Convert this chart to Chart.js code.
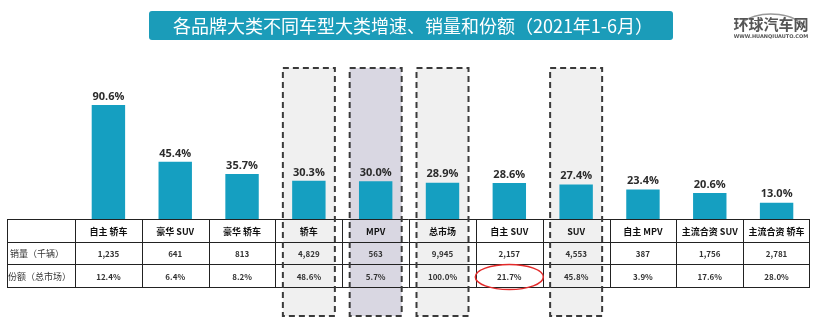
<!DOCTYPE html>
<html lang="zh">
<head>
  <meta charset="UTF-8" />
  <title>各品牌大类不同车型大类增速、销量和份额</title>
  <script src="https://cdn.jsdelivr.net/npm/chart.js"></script>
  <style>
    html, body { margin: 0; padding: 0; background: #fff; }
    canvas { display: block; }
  </style>
</head>
<body>
  <canvas id="growthChart" width="820" height="329"></canvas>

  <script>
    // categories (brand class + body type)
    const categories = ['自主 轿车', '豪华 SUV', '豪华 轿车', '轿车', 'MPV', '总市场',
                        '自主 SUV', 'SUV', '自主 MPV', '主流合资 SUV', '主流合资 轿车'];
    // YoY growth, %
    const growth = [90.6, 45.4, 35.7, 30.3, 30.0, 28.9, 28.6, 27.4, 23.4, 20.6, 13.0];
    // sales, thousand units
    const sales = ['1,235', '641', '813', '4,829', '563', '9,945', '2,157', '4,553', '387', '1,756', '2,781'];
    // share of total market
    const share = ['12.4%', '6.4%', '8.2%', '48.6%', '5.7%', '100.0%', '21.7%', '45.8%', '3.9%', '17.6%', '28.0%'];
    const rowLabels = ['销量（千辆）', '份额（总市场）'];

    // highlighted columns: index -> fill
    const boxed = { 3: '#f0f0f0', 4: '#d9d7e2', 5: '#f0f0f0', 7: '#f0f0f0' };
    const circled = 6; // share cell with red ring

    const FONT = '"Noto Sans CJK SC", "Noto Sans", sans-serif';
    const TABLE_TOP = 219, ROW_H = [23, 22, 23], TABLE_LEFT = 7;
    const BOX_TOP = 68, BOX_BOTTOM = 316, BOX_HALF = 26;

    function colEdges(x, i) {
      const c = x.getPixelForValue(i);
      const half = (x.getPixelForValue(1) - x.getPixelForValue(0)) / 2;
      return [c - half, c + half, c];
    }

    const decor = {
      id: 'decor',
      beforeDatasetsDraw(chart) {
        const { ctx, scales: { x } } = chart;
        ctx.save();
        // shaded boxes behind bars and table
        Object.keys(boxed).forEach(k => {
          const c = x.getPixelForValue(+k);
          ctx.fillStyle = boxed[k];
          ctx.fillRect(c - BOX_HALF, BOX_TOP, BOX_HALF * 2, BOX_BOTTOM - BOX_TOP);
        });
        ctx.restore();
      },
      afterDatasetsDraw(chart) {
        const { ctx, scales: { x } } = chart;
        const right = chart.chartArea.right;
        ctx.save();

        // value labels over bars
        const meta = chart.getDatasetMeta(0);
        ctx.fillStyle = '#2b2b2b';
        ctx.font = 'bold 11px "Open Sans", sans-serif';
        ctx.textAlign = 'center';
        ctx.textBaseline = 'bottom';
        meta.data.forEach((bar, i) => {
          ctx.fillText(growth[i].toFixed(1) + '%', bar.x, bar.y - 3);
        });

        // table grid
        const rowsY = [TABLE_TOP];
        ROW_H.forEach(h => rowsY.push(rowsY[rowsY.length - 1] + h));
        ctx.strokeStyle = '#222';
        ctx.lineWidth = 1;
        ctx.beginPath();
        rowsY.forEach(y => { ctx.moveTo(TABLE_LEFT, y + 0.5); ctx.lineTo(right, y + 0.5); });
        ctx.moveTo(TABLE_LEFT + 0.5, rowsY[0]); ctx.lineTo(TABLE_LEFT + 0.5, rowsY[3]);
        categories.forEach((_, i) => {
          const [l, r] = colEdges(x, i);
          ctx.moveTo(Math.round(l) + 0.5, rowsY[0]); ctx.lineTo(Math.round(l) + 0.5, rowsY[3]);
          if (i === categories.length - 1) { ctx.moveTo(Math.round(r) - 0.5, rowsY[0]); ctx.lineTo(Math.round(r) - 0.5, rowsY[3]); }
        });
        ctx.stroke();

        // table text
        ctx.textBaseline = 'middle';
        const mid = k => rowsY[k] + ROW_H[k] / 2 + 1;
        categories.forEach((name, i) => {
          const c = x.getPixelForValue(i);
          ctx.fillStyle = '#111';
          ctx.font = 'bold 9px ' + FONT;
          ctx.fillText(name, c, mid(0));
          ctx.fillStyle = '#333';
          ctx.font = '600 8px ' + FONT;
          ctx.fillText(sales[i], c, mid(1));
          ctx.fillText(share[i], c, mid(2));
        });
        ctx.fillStyle = '#333';
        ctx.font = '9px ' + FONT;
        ctx.textAlign = 'left';
        ctx.fillText(rowLabels[0], TABLE_LEFT + 3, mid(1));
        ctx.fillText(rowLabels[1], TABLE_LEFT + 1, mid(2));

        // dashed outlines
        ctx.strokeStyle = '#3a3a3a';
        ctx.lineWidth = 2;
        ctx.setLineDash([6, 4]);
        Object.keys(boxed).forEach(k => {
          const c = x.getPixelForValue(+k);
          ctx.strokeRect(c - BOX_HALF, BOX_TOP, BOX_HALF * 2, BOX_BOTTOM - BOX_TOP);
        });
        ctx.setLineDash([]);

        // red ring on one share cell
        const cc = x.getPixelForValue(circled);
        ctx.strokeStyle = '#e32a2a';
        ctx.lineWidth = 1.5;
        ctx.beginPath();
        ctx.ellipse(cc, mid(2) + 0.5, 34, 12.5, 0, 0, Math.PI * 2);
        ctx.stroke();

        // title banner
        ctx.fillStyle = '#1b9cb9';
        ctx.beginPath();
        ctx.roundRect(149, 11, 524, 29, 3);
        ctx.fill();
        ctx.fillStyle = '#fff';
        ctx.textAlign = 'center';
        ctx.font = '18px ' + FONT;
        ctx.fillText('各品牌大类不同车型大类增速、销量和份额（2021年1-6月）', 413, 26);

        // site logo
        ctx.strokeStyle = '#999';
        ctx.lineWidth = 1.5;
        ctx.beginPath();
        ctx.ellipse(771, 30, 32, 16, 0, Math.PI * 1.08, Math.PI * 1.92);
        ctx.stroke();
        ctx.fillStyle = '#555';
        ctx.font = 'bold 15px ' + FONT;
        ctx.fillText('环球汽车网', 771, 24);
        ctx.font = 'bold 5px "DejaVu Sans", sans-serif';
        ctx.fillText('WWW.HUANQIUAUTO.COM', 771, 37);
        ctx.restore();
      }
    };

    new Chart(document.getElementById('growthChart'), {
      type: 'bar',
      data: {
        labels: categories,
        datasets: [{
          data: growth,
          backgroundColor: '#159fc1',
          barPercentage: 0.5,
          categoryPercentage: 1
        }]
      },
      options: {
        responsive: false,
        animation: false,
        layout: { padding: { left: 75, right: 10, top: 68, bottom: 110 } },
        plugins: { legend: { display: false }, tooltip: { enabled: false } },
        scales: {
          x: { display: false },
          y: { display: false, min: 0, max: 120 }
        }
      },
      plugins: [decor]
    });
  </script>
</body>
</html>
